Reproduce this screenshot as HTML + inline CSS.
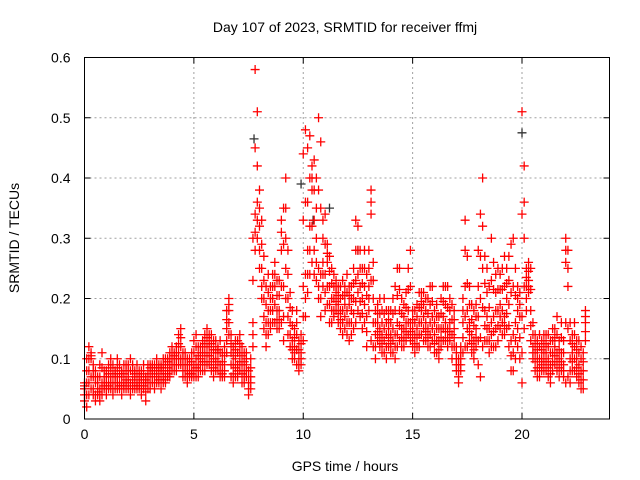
<!DOCTYPE html>
<html><head><meta charset="utf-8"><style>
html,body{margin:0;padding:0;background:#fff;}
svg{display:block;font-family:"Liberation Sans",Arial,sans-serif;}
</style></head><body>
<svg id="chart" width="640" height="480" viewBox="0 0 640 480">
<rect width="640" height="480" fill="#fff"/>
<text x="345" y="32" font-size="14" text-anchor="middle">Day 107 of 2023, SRMTID for receiver ffmj</text>
<text x="19" y="238" font-size="14" text-anchor="middle" transform="rotate(-90 19 238)">SRMTID / TECUs</text>
<text x="345" y="471" font-size="14" text-anchor="middle">GPS time / hours</text>
<g id="grid"></g>
<g id="ticks"></g>
<g id="marks"></g>
<rect x="84.5" y="57.5" width="525" height="361.5" fill="none" stroke="#000" stroke-width="1"/>
</svg>
<script>
const xTicks=[0,5,10,15,20];
const yTicks=[0,0.1,0.2,0.3,0.4,0.5,0.6];
const yTickLabels=["0","0.1","0.2","0.3","0.4","0.5","0.6"];
const valsLo=[.03,.02,.04,.05,.04,.03,.04,.03,.04,.05, .04,.05,.05,.04,.05,.05,.05,.04,.05,.05, .05,.04,.05,.05,.05,.05,.04,.05,.03,.05, .05,.06,.05,.06,.06,.05,.06,.06,.07,.07, .08,.08,.08,.09,.09,.07,.07,.06,.07,.07, .07,.07,.07,.08,.08,.08,.09,.09,.08,.07, .08,.08,.07,.07,.07,.11,.14,.07,.06,.07, .07,.08,.06,.06,.07,.04,.05,.12,.28,.30, .25,.20,.15,.12,.14,.15,.16,.16,.15,.15, .16,.13,.20,.14,.12,.10,.10,.09,.08,.09, .13,.17,.21,.24,.26,.24,.23,.20,.17,.22, .18,.19,.16,.16,.17,.18,.16,.15,.14,.15, .14,.13,.14,.15,.16,.18,.17,.15,.16,.12, .18,.13,.12,.10,.13,.12,.11,.11,.10,.12, .11,.11,.10,.12,.13,.12,.12,.13,.14,.13, .12,.11,.12,.12,.14,.13,.13,.12,.12,.13, .11,.11,.10,.12,.13,.13,.12,.13,.10,.12, .08,.06,.08,.11,.12,.12,.13,.11,.10,.12, .09,.07,.12,.13,.13,.11,.12,.12,.12,.13, .15,.14,.14,.15,.12,.08,.08,.10,.12,.10, .06,.15,.18,.21,.13,.10,.08,.07,.07,.08, .08,.08,.07,.06,.08,.09,.08,.07,.08,.07, .06,.07,.06,.08,.08,.07,.06,.05,.05,.13];
const valsQ1=[.04,.04,.06,.07,.05,.04,.045,.04,.05,.055, .05,.055,.06,.05,.06,.06,.055,.055,.055,.06, .06,.05,.055,.06,.055,.055,.05,.055,.045,.06, .06,.07,.06,.07,.065,.065,.07,.065,.075,.08, .09,.09,.09,.10,.10,.08,.08,.07,.075,.075, .08,.085,.08,.09,.095,.095,.105,.105,.095,.085, .09,.095,.08,.075,.08,.13,.16,.09,.075,.085, .08,.095,.075,.07,.08,.05,.06,.14,.31,.33, .28,.22,.17,.14,.16,.16,.18,.19,.165,.165, .22,.17,.25,.17,.14,.115,.11,.115,.09,.10, .17,.20,.24,.28,.32,.28,.26,.22,.20,.24, .21,.22,.19,.18,.18,.195,.175,.165,.16,.17, .16,.16,.16,.175,.195,.21,.195,.175,.19,.145, .20,.23,.16,.12,.145,.135,.125,.13,.12,.135, .125,.13,.12,.14,.155,.135,.135,.145,.16,.145, .135,.125,.135,.14,.16,.15,.145,.135,.14,.15, .125,.13,.115,.135,.15,.145,.135,.145,.12,.135, .09,.07,.09,.135,.17,.15,.145,.125,.115,.135, .13,.135,.185,.155,.15,.13,.14,.145,.15,.155, .17,.16,.155,.175,.155,.105,.11,.13,.15,.135, .11,.22,.20,.22,.155,.11,.095,.085,.085,.09, .095,.095,.085,.075,.095,.105,.095,.085,.095,.08, .16,.15,.08,.095,.10,.085,.075,.065,.065,.145];
const valsMid=[.05,.06,.08,.10,.07,.06,.05,.05,.06,.06, .06,.06,.07,.06,.07,.07,.06,.07,.06,.065, .07,.06,.065,.07,.06,.06,.065,.06,.06,.07, .075,.08,.07,.08,.075,.08,.08,.075,.085,.09, .10,.10,.10,.11,.12,.09,.09,.08,.08,.08, .09,.10,.09,.10,.11,.11,.12,.12,.11,.10, .10,.11,.09,.08,.09,.15,.18,.11,.09,.10, .09,.11,.09,.08,.09,.06,.07,.16,.34,.36, .32,.25,.20,.16,.18,.18,.20,.22,.18,.18, .28,.22,.30,.20,.16,.13,.12,.14,.10,.11, .22,.24,.28,.32,.38,.33,.30,.25,.24,.26, .24,.26,.22,.20,.20,.21,.19,.18,.18,.19, .18,.19,.18,.20,.23,.24,.22,.20,.22,.17, .22,.34,.20,.14,.16,.15,.14,.15,.14,.15, .14,.15,.14,.16,.18,.15,.15,.16,.18,.16, .15,.14,.15,.16,.18,.17,.16,.15,.16,.17, .14,.15,.13,.15,.17,.16,.15,.16,.14,.15, .10,.08,.10,.16,.22,.18,.16,.14,.13,.15, .17,.20,.25,.18,.17,.15,.16,.17,.18,.18, .19,.18,.17,.20,.19,.13,.14,.16,.18,.17, .17,.30,.22,.23,.18,.12,.11,.10,.10,.10, .11,.11,.10,.09,.11,.12,.11,.10,.11,.09, .26,.22,.10,.11,.12,.10,.09,.08,.08,.16];
const valsQ3=[.055,.08,.10,.105,.08,.07,.06,.07,.085,.07, .07,.075,.085,.075,.075,.085,.075,.075,.075,.08, .08,.08,.08,.075,.075,.07,.07,.075,.065,.08, .085,.085,.08,.09,.085,.085,.09,.09,.095,.10, .11,.105,.11,.125,.135,.10,.10,.09,.09,.095, .11,.12,.105,.11,.12,.125,.135,.13,.125,.115, .115,.115,.11,.095,.105,.165,.19,.125,.105,.115, .11,.125,.105,.095,.10,.07,.085,.23,.45,.42, .35,.29,.23,.19,.21,.20,.22,.24,.205,.205, .31,.29,.35,.24,.185,.155,.135,.16,.115,.125, .33,.36,.36,.40,.40,.38,.35,.38,.35,.30, .29,.275,.245,.225,.22,.22,.205,.20,.205,.205, .21,.205,.20,.225,.28,.28,.25,.225,.25,.205, .25,.36,.23,.16,.175,.175,.16,.175,.16,.165, .16,.175,.18,.205,.215,.175,.17,.185,.215,.22, .165,.16,.17,.185,.195,.19,.18,.175,.19,.195, .16,.17,.15,.175,.195,.19,.185,.18,.165,.165, .11,.09,.11,.18,.28,.225,.19,.165,.155,.17, .22,.27,.32,.225,.21,.185,.23,.215,.21,.215, .215,.215,.22,.225,.23,.21,.22,.205,.20,.19, .34,.36,.235,.245,.215,.14,.125,.115,.12,.115, .125,.125,.12,.11,.13,.135,.14,.115,.135,.11, .28,.25,.13,.125,.14,.115,.11,.10,.095,.17];
const valsHi=[.06,.10,.12,.11,.09,.08,.07,.09,.11,.08, .08,.09,.10,.09,.08,.10,.09,.08,.09,.09, .09,.10,.09,.08,.09,.08,.08,.09,.07,.09, .09,.09,.09,.10,.09,.09,.10,.10,.10,.11, .12,.11,.12,.14,.15,.11,.11,.10,.10,.11, .13,.14,.12,.12,.13,.14,.15,.14,.14,.13, .13,.12,.13,.11,.12,.18,.20,.14,.12,.13, .13,.14,.12,.11,.11,.08,.10,.30,.58,.51, .38,.33,.27,.22,.24,.22,.24,.26,.23,.23, .33,.35,.40,.28,.21,.18,.15,.18,.13,.14, .44,.48,.45,.47,.42,.43,.40,.50,.46,.33, .34,.29,.27,.25,.24,.23,.22,.22,.23,.22, .24,.22,.22,.25,.33,.32,.28,.25,.28,.24, .28,.38,.26,.18,.19,.20,.18,.20,.18,.18, .18,.20,.22,.25,.25,.20,.19,.21,.25,.28, .18,.18,.19,.21,.21,.21,.20,.20,.22,.22, .18,.19,.17,.20,.22,.22,.22,.20,.19,.18, .12,.10,.12,.20,.33,.27,.22,.19,.18,.19, .28,.34,.40,.27,.25,.22,.30,.26,.24,.25, .24,.25,.27,.25,.27,.29,.30,.25,.22,.21, .51,.42,.25,.26,.25,.16,.14,.13,.14,.13, .14,.14,.14,.13,.15,.15,.17,.13,.16,.13, .30,.28,.16,.14,.16,.13,.13,.12,.11,.18];
const times=[];
for(let i=0;i<valsMid.length;i++) times.push(+(i*0.1).toFixed(1));
const blackTimes=[0.0,7.75,9.9,10.45,11.2,12.5,20.0];
const blackVals=[0.05,0.465,0.39,0.33,0.35,0.28,0.475];

const NS="http://www.w3.org/2000/svg";
const X0=84.5,X1=609.5,Y0=419,Y1=57.5,XMAX=24,YMAX=0.6;
const xs=v=>X0+(v/XMAX)*(X1-X0);
const ys=v=>Y0-(v/YMAX)*(Y0-Y1);
function mk(tag,attrs,parent){const e=document.createElementNS(NS,tag);for(const k in attrs)e.setAttribute(k,attrs[k]);parent.appendChild(e);return e;}
const grid=document.getElementById('grid'),ticks=document.getElementById('ticks'),marks=document.getElementById('marks');
xTicks.forEach(t=>{
  const x=xs(t);
  if(t>0){const g=mk('line',{x1:x,y1:Y0,x2:x,y2:Y1,stroke:'#a0a0a0','stroke-dasharray':'2,3'},grid);
  
  }
  mk('line',{x1:x,y1:Y0,x2:x,y2:Y0-6,stroke:'#000'},ticks);
  mk('line',{x1:x,y1:Y1,x2:x,y2:Y1+6,stroke:'#000'},ticks);
  const l=mk('text',{x:x,y:Y0+20,'font-size':14,'text-anchor':'middle',fill:'#000'},ticks);
  l.textContent=String(t);
  
  
});
yTicks.forEach((t,i)=>{
  const y=ys(t);
  if(t>0&&t<YMAX){const g=mk('line',{x1:X0,y1:y,x2:X1,y2:y,stroke:'#a0a0a0','stroke-dasharray':'2,3'},grid);
  
  }
  mk('line',{x1:X0,y1:y,x2:X0+6,y2:y,stroke:'#000'},ticks);
  mk('line',{x1:X1,y1:y,x2:X1-6,y2:y,stroke:'#000'},ticks);
  const l=mk('text',{x:X0-14,y:y+5,'font-size':14,'text-anchor':'end',fill:'#000'},ticks);
  l.textContent=yTickLabels[i];
  
  
});
function plus(t,v,color,name){
  const x=xs(t),y=ys(v);
  const p=mk('path',{d:`M${x-4.5},${y}H${x+4.5}M${x},${y-4.5}V${y+4.5}`,stroke:color,'stroke-width':1.3,fill:'none'},marks);
  
  
}
blackTimes.forEach((t,i)=>plus(t,blackVals[i],'#333','point-black'));
[valsLo,valsQ1,valsMid,valsQ3,valsHi].forEach(arr=>{
  arr.forEach((v,i)=>plus(times[i],v,'#ff0000','point-red'));
});
</script>
</body></html>
